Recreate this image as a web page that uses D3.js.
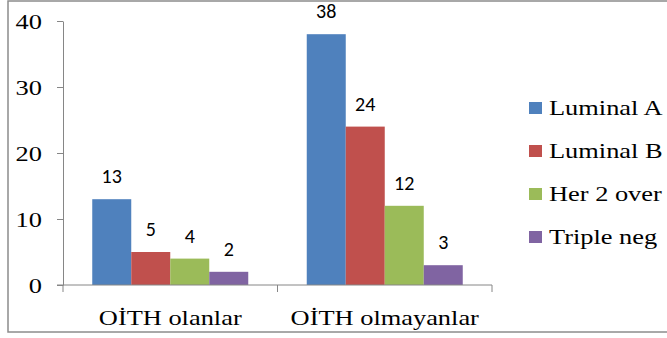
<!DOCTYPE html>
<html>
<head>
<meta charset="utf-8">
<script src="https://cdn.jsdelivr.net/npm/d3@7"></script>
<style>
  html, body { margin: 0; padding: 0; background: #fff; }
  svg { display: block; }
</style>
</head>
<body>
<script>
// Tumour subtype counts by group
const categories = ["OİTH olanlar", "OİTH olmayanlar"];
const seriesNames = ["Luminal A", "Luminal B", "Her 2 over", "Triple neg"];
const luminalA = [13, 38];
const luminalB = [5, 24];
const her2Over = [4, 12];
const tripleNeg = [2, 3];
const seriesValues = [luminalA, luminalB, her2Over, tripleNeg];
const yTicks = [0, 10, 20, 30, 40];
const colors = ["#4f81bd", "#c0504d", "#9bbb59", "#8064a2"];

const W = 667, H = 338;
const serif = '"Liberation Serif"';
const sansLabel = '"Carlito"';
const sx = 1.2; // horizontal text stretch

const svg = d3.select("body").append("svg").attr("width", W).attr("height", H);

// outer frame
svg.append("rect")
  .attr("x", 8).attr("y", 1).attr("width", W + 10).attr("height", 331)
  .attr("fill", "none").attr("stroke", "#8c8c8c").attr("stroke-width", 1.5);

const plot = { left: 63, right: 492, top: 21, bottom: 285 };

const x0 = d3.scaleBand().domain(categories).range([plot.left, plot.right]).paddingInner(0).paddingOuter(0);
const x1 = d3.scaleBand().domain(seriesNames).range([0, x0.bandwidth()]).paddingInner(0).paddingOuter(0.75);
const y = d3.scaleLinear().domain([0, 40]).range([plot.bottom, plot.top]);

// bars and value labels
const groups = svg.append("g").selectAll("g").data(categories).join("g")
  .attr("transform", d => `translate(${x0(d)},0)`);

groups.each(function (cat, ci) {
  const g = d3.select(this);
  seriesNames.forEach((s, si) => {
    const v = seriesValues[si][ci];
    g.append("rect")
      .attr("x", x1(s)).attr("width", x1.bandwidth())
      .attr("y", y(v)).attr("height", y(0) - y(v))
      .attr("fill", colors[si]);
    g.append("text")
      .attr("x", x1(s) + x1.bandwidth() / 2)
      .attr("y", y(v) - 16)
      .attr("text-anchor", "middle")
      .style("font-family", sansLabel)
      .attr("font-size", 20)
      .attr("fill", "#000")
      .text(v);
  });
});

// axes
const axisColor = "#868686";
const yAxis = svg.append("g").attr("transform", `translate(${plot.left},0)`)
  .call(d3.axisLeft(y).tickValues(yTicks).tickSize(6).tickSizeOuter(0).tickPadding(0));
yAxis.selectAll("path, line").attr("stroke", axisColor);
yAxis.selectAll("text").remove();
yAxis.selectAll(".tick").append("text")
  .attr("transform", `translate(-21,7.5) scale(${sx},1)`)
  .attr("text-anchor", "end")
  .style("font-family", serif).attr("font-size", 22).attr("fill", "#000")
  .text(d => d);

const xAxis = svg.append("g").attr("transform", `translate(0,${plot.bottom})`)
  .call(d3.axisBottom(x0).tickSize(0).tickSizeOuter(0));
xAxis.select(".domain").attr("d", `M${plot.left - 6},0H${plot.right}`).attr("stroke", axisColor);
xAxis.selectAll("text").remove();
// category dividers
const edges = [plot.left, ...categories.map(c => x0(c) + x0.bandwidth())];
xAxis.selectAll("line.div").data(edges).join("line").attr("class", "div")
  .attr("x1", d => d).attr("x2", d => d).attr("y1", 0).attr("y2", 7)
  .attr("stroke", axisColor);
xAxis.selectAll(".tick").append("text")
  .attr("transform", `translate(0,40) scale(${sx},1)`)
  .attr("text-anchor", "middle")
  .style("font-family", serif).attr("font-size", 22).attr("fill", "#000")
  .text(d => d);

// legend
const legend = svg.append("g").attr("transform", "translate(529,102)");
const rows = legend.selectAll("g").data(seriesNames).join("g")
  .attr("transform", (d, i) => `translate(0,${i * 43})`);
rows.append("rect").attr("width", 13).attr("height", 12).attr("fill", (d, i) => colors[i]);
rows.append("text")
  .attr("transform", `translate(20,13) scale(${sx},1)`)
  .style("font-family", serif).attr("font-size", 22).attr("fill", "#000")
  .text(d => d);
</script>
</body>
</html>
